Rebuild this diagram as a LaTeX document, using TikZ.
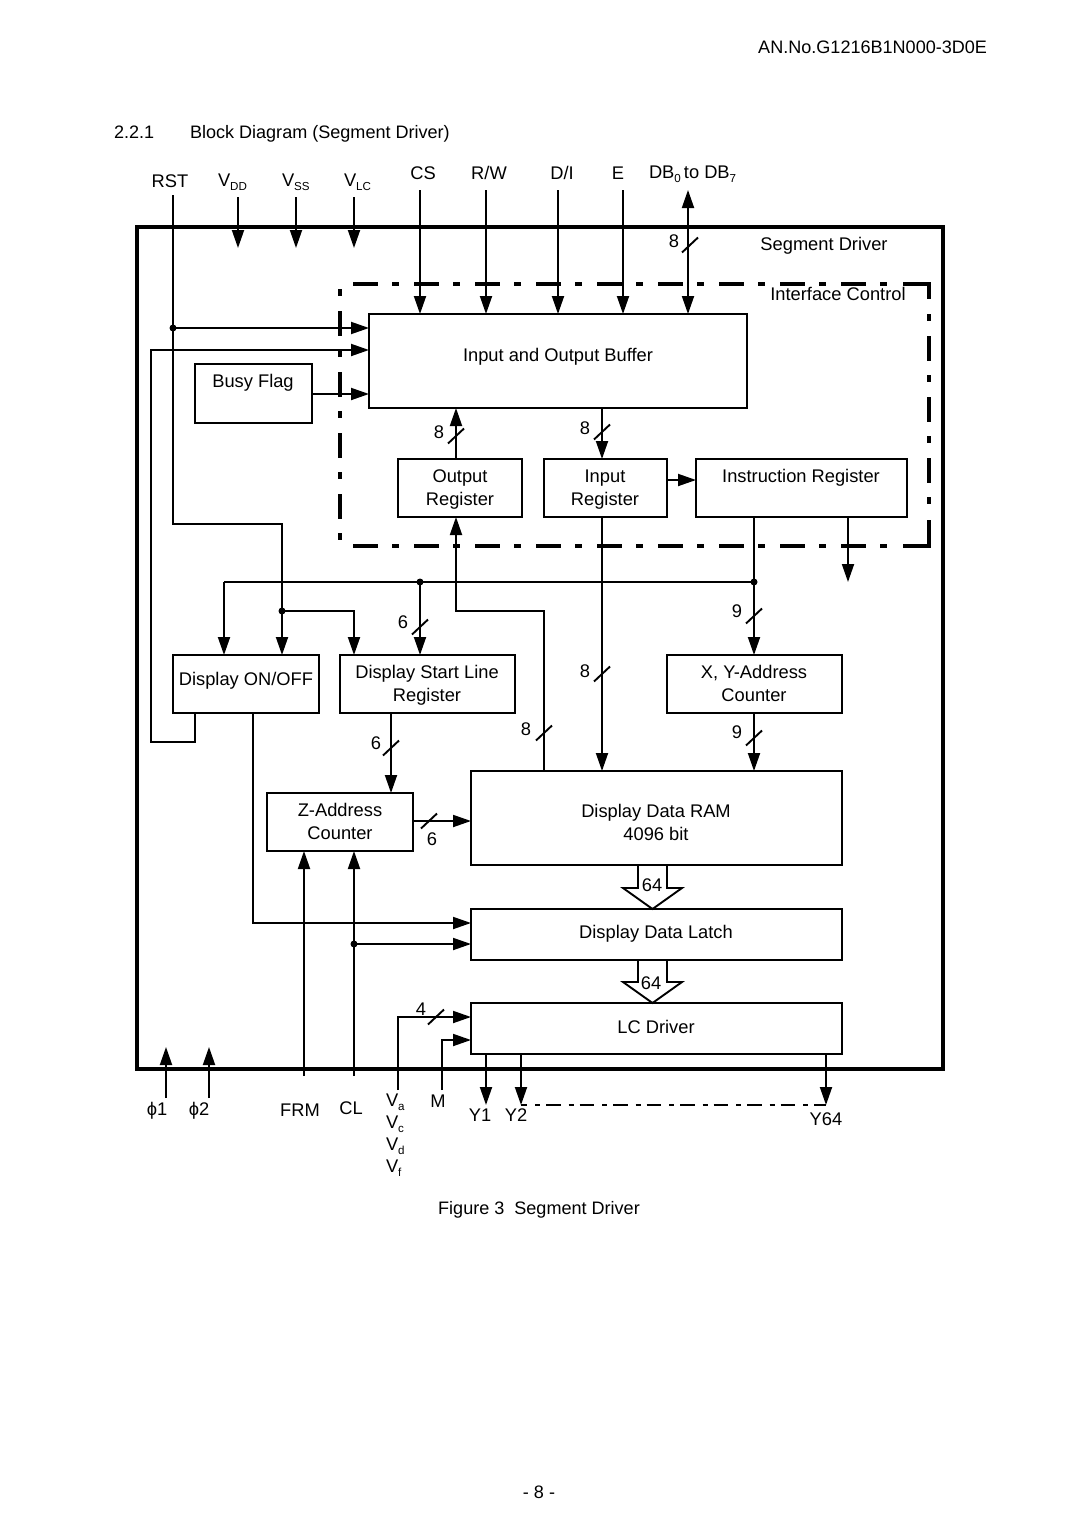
\documentclass[tikz,border=0pt]{standalone}
\usepackage{fontspec}
\setmainfont{Liberation Sans}
\usetikzlibrary{arrows.meta,calc}
\newcommand{\lowsub}[1]{{\fontsize{11.6}{12}\selectfont\raisebox{-3.5pt}{#1}}}
\newcommand{\busslash}[3]{\coordinate (#1) at #2; \draw[wire] ([shift={(-8,7.5)}]#1) -- ([shift={(8,-7.5)}]#1); }
\tikzset{
  x=1pt,y=-1pt,
  wire/.style={line width=1.9pt,draw=black},
  arr/.style={wire,-{Triangle[length=18pt,width=12pt]}},
  darr/.style={wire,{Triangle[length=18pt,width=12pt]}-{Triangle[length=18pt,width=12pt]}},
  box/.style={draw=black,line width=1.9pt,anchor=north west,inner sep=0,outer sep=0},
  txt/.style={inner sep=0,outer sep=0,text height=13pt,text depth=0pt,font=\fontsize{18.3}{20}\selectfont},
  hdr/.style={txt,font=\fontsize{18.05}{20}\selectfont},
  dot/.style={circle,fill=black,inner sep=0,minimum size=7pt},
  frame/.style={line width=4pt,draw=black},
  ifcbase/.style={line width=4pt,draw=black},
  ifclong/.style={ifcbase,dash pattern=on 25pt off 14pt on 7pt off 15pt},
  ifcshort/.style={ifcbase,dash pattern=on 7pt off 15pt on 25pt off 14pt},
  dd/.style={line width=2.2pt,draw=black,dash pattern=on 14.5pt off 8pt on 5pt off 6pt,dash phase=8.5pt},
}
\begin{document}
\begin{tikzpicture}
\useasboundingbox (0,0) rectangle (1080,1528);
\fill[white] (0,0) rectangle (1080,1528);

% frames
\node[box,frame,minimum width=806pt,minimum height=842pt] (chip) at (137,227) {};
% interface control frame: four dash-dot sides, solid right corners
\coordinate (ta) at (353,284); \coordinate (tb) at (895,284);
\coordinate (ba) at (353,546); \coordinate (bb) at (895,546);
\coordinate (la) at (340,289); \coordinate (lb) at (340,545);
\coordinate (ra) at (929,314); \coordinate (rb) at (929,510);
\coordinate (ca) at (903,284); \coordinate (cb) at (929,284); \coordinate (cc) at (929,299);
\coordinate (da) at (903,546); \coordinate (db) at (929,546); \coordinate (dc) at (929,520);
\draw[ifclong] (ta) -- (tb);
\draw[ifclong] (ba) -- (bb);
\draw[ifcshort] (la) -- (lb);
\draw[ifcshort] (ra) -- (rb);
\draw[ifcbase] (ca) -- (cb) -- (cc);
\draw[ifcbase] (da) -- (db) -- (dc);

% boxes
\node[box,minimum width=378pt,minimum height=94pt] (buf) at (369,314) {};
\node[box,minimum width=117pt,minimum height=59pt] (busy) at (195,364) {};
\node[box,minimum width=124pt,minimum height=58pt] (outreg) at (398,459) {};
\node[box,minimum width=123pt,minimum height=58pt] (inreg) at (544,459) {};
\node[box,minimum width=211pt,minimum height=58pt] (instr) at (696,459) {};
\node[box,minimum width=146pt,minimum height=58pt] (onoff) at (173,655) {};
\node[box,minimum width=175pt,minimum height=58pt] (start) at (340,655) {};
\node[box,minimum width=175pt,minimum height=58pt] (xy) at (667,655) {};
\node[box,minimum width=146pt,minimum height=58pt] (z) at (267,793) {};
\node[box,minimum width=371pt,minimum height=94pt] (ram) at (471,771) {};
\node[box,minimum width=371pt,minimum height=51pt] (latch) at (471,909) {};
\node[box,minimum width=371pt,minimum height=51pt] (lc) at (471,1003) {};

% free ends and junctions
\coordinate (rstp) at (173,195);
\node[dot] (jrst) at (173,328) {};
\coordinate (rsta) at (173,524);
\coordinate (rstb) at (282,524);
\node[dot] (jon) at (282,611) {};
\node[dot] (jbus) at (420,582) {};
\node[dot] (jir) at (754,582) {};
\node[dot] (jcl) at (354,944) {};
\coordinate (vddp) at (238,197); \coordinate (vssp) at (296,197); \coordinate (vlcp) at (354,197);
\coordinate (vdde) at (238,248); \coordinate (vsse) at (296,248); \coordinate (vlce) at (354,248);
\coordinate (csp) at (420,190); \coordinate (rwp) at (486,190); \coordinate (dip) at (558,190); \coordinate (ep) at (623,190); \coordinate (dbp) at (688,190);
\coordinate (bfa) at (195,742); \coordinate (bfb) at (151,742); \coordinate (bfc) at (151,350);
\coordinate (phia) at (166,1098); \coordinate (phib) at (209,1098);
\coordinate (phiae) at (166,1047); \coordinate (phibe) at (209,1047);
\coordinate (frmp) at (304,1076); \coordinate (clp) at (354,1076);
\coordinate (vap) at (398,1090); \coordinate (mp) at (442,1090);
\coordinate (y1e) at (486,1105); \coordinate (y2e) at (521,1105); \coordinate (y64e) at (826,1105);
\coordinate (ira) at (848,582);
\coordinate (ora) at (456,611); \coordinate (orb) at (544,611);
\coordinate (bl) at (224,582);

% top pins
\draw[arr] (vddp) -- (vdde);
\draw[arr] (vssp) -- (vsse);
\draw[arr] (vlcp) -- (vlce);
\draw[arr] (csp) -- (csp |- buf.north);
\draw[arr] (rwp) -- (rwp |- buf.north);
\draw[arr] (dip) -- (dip |- buf.north);
\draw[arr] (ep) -- (ep |- buf.north);
\draw[darr] (dbp) -- (dbp |- buf.north);
\busslash{sdb}{(690,245)}{}

% RST
\draw[wire] (rstp) -- (rsta) -- (rstb) -- (jon.center);
\draw[arr] (jon.center) -- (jon |- onoff.north);
\draw[arr] (jrst.center) -- (jrst -| buf.west);
\draw[arr] (jon.center) -| (354,655 |- start.north);

% busy feedback
\draw[arr] (bfa |- onoff.south) -- (bfa) -- (bfb) -- (bfc) -- (bfc -| buf.west);
\draw[arr] (busy.east |- 0,394) -- (buf.west |- 0,394);

% registers
\draw[arr] (456,459 |- outreg.north) -- (456,408 |- buf.south);
\busslash{sout}{(456,436)}{}
\draw[arr] (602,408 |- buf.south) -- (602,459 |- inreg.north);
\busslash{sin}{(602,432)}{}
\draw[arr] (inreg.east |- 0,480) -- (instr.west |- 0,480);

% internal bus
\draw[arr] (jir |- instr.south) -- (jir |- xy.north);
\busslash{sxy}{(754,616)}{}
\draw[wire] (jir.center) -- (bl);
\draw[arr] (bl) -- (bl |- onoff.north);
\draw[arr] (jbus.center) -- (jbus |- start.north);
\busslash{sst}{(420,627)}{}
\draw[arr] (ira |- instr.south) -- (ira);
\draw[arr] (orb |- ram.north) -- (orb) -- (ora) -- (ora |- outreg.south);
\busslash{sor}{(544,733)}{}
\draw[arr] (602,517 |- inreg.south) -- (602,771 |- ram.north);
\busslash{sir}{(602,674)}{}
\draw[arr] (jir |- xy.south) -- (jir |- ram.north);
\busslash{sxr}{(754,738)}{}
\draw[arr] (391,713 |- start.south) -- (391,793 |- z.north);
\busslash{ssz}{(391,748)}{}
\draw[arr] (z.east |- 0,821) -- (ram.west |- 0,821);
\busslash{szr}{(429,821)}{}

% bottom
\draw[arr] (frmp) -- (frmp |- z.south);
\draw[arr] (clp) -- (clp |- z.south);
\draw[arr] (jcl.center) -- (jcl -| latch.west);
\draw[arr] (253,713 |- onoff.south) |- (latch.west |- 0,923);
\draw[arr] (phia) -- (phiae);
\draw[arr] (phib) -- (phibe);
\draw[arr] (vap) |- (lc.west |- 0,1017);
\busslash{slc}{(436,1017)}{}
\draw[arr] (mp) |- (lc.west |- 0,1040);
\draw[arr] (y1e |- lc.south) -- (y1e);
\draw[arr] (y2e |- lc.south) -- (y2e);
\draw[arr] (y64e |- lc.south) -- (y64e);
\draw[dd] (y2e) -- (y64e);

% fat arrows
\draw[wire,line join=miter] (638,865 |- ram.south) -- (638,888) -- (623,888) -- (652.5,909 |- latch.north) -- (682,888) -- (667,888) -- (667,865 |- ram.south);
\draw[wire,line join=miter] (638,960 |- latch.south) -- (638,982) -- (623,982) -- (652.5,1003 |- lc.north) -- (682,982) -- (667,982) -- (667,960 |- latch.south);

% texts
\node[hdr,anchor=east] (docno) at (987,47) {AN.No.G1216B1N000-3D0E};
\node[hdr,anchor=west] (secno) at (114,132) {2.2.1};
\node[hdr,anchor=west] (sectitle) at (190,132) {Block Diagram (Segment Driver)};
\node[txt] (trst) at (170,181) {RST};
\node[txt,anchor=west] (tvdd) at (218,180) {V\lowsub{DD}};
\node[txt,anchor=west] (tvss) at (282,180) {V\lowsub{SS}};
\node[txt,anchor=west] (tvlc) at (344,180) {V\lowsub{LC}};
\node[txt] (tcs) at (423,173) {CS};
\node[txt] (trw) at (489,173) {R/W};
\node[txt] (tdi) at (562,173) {D/I};
\node[txt] (te) at (618,173) {E};
\node[txt,anchor=west] (tdb) at (649,172) {DB\lowsub{0}\,to DB\lowsub{7}};
\node[txt] (l8a) at (674,241) {8};
\node[txt] (tseg) at (824,244) {Segment Driver};
\node[txt] (tifc) at (838,294) {Interface Control};
\node[txt] (tbuf) at (558,355) {Input and Output Buffer};
\node[txt] (tbusy) at (253,381) {Busy Flag};
\node[txt] (l8b) at (439,432) {8};
\node[txt] (l8c) at (585,428) {8};
\node[txt] (tor1) at (460,476) {Output};
\node[txt] (tor2) at (460,499) {Register};
\node[txt] (tir1) at (605,476) {Input};
\node[txt] (tir2) at (605,499) {Register};
\node[txt] (tinstr) at (801,476) {Instruction Register};
\node[txt] (l9a) at (737,611) {9};
\node[txt] (l6a) at (403,622) {6};
\node[txt] (tonoff) at (246,679) {Display ON/OFF};
\node[txt] (tst1) at (427,672) {Display Start Line};
\node[txt] (tst2) at (427,695) {Register};
\node[txt] (l8d) at (585,671) {8};
\node[txt] (txy1) at (754,672) {X, Y-Address};
\node[txt] (txy2) at (754,695) {Counter};
\node[txt] (l8e) at (526,729) {8};
\node[txt] (l9b) at (737,732) {9};
\node[txt] (l6b) at (376,743) {6};
\node[txt] (tz1) at (340,810) {Z-Address};
\node[txt] (tz2) at (340,833) {Counter};
\node[txt] (l6c) at (432,839) {6};
\node[txt] (tram1) at (656,811) {Display Data RAM};
\node[txt] (tram2) at (656,834) {4096 bit};
\node[txt] (l64a) at (652,885) {64};
\node[txt] (tlatch) at (656,932) {Display Data Latch};
\node[txt] (l64b) at (651,983) {64};
\node[txt] (l4) at (421,1009) {4};
\node[txt] (tlc) at (656,1027) {LC Driver};
\node[txt] (tp1) at (157,1109) {ϕ1};
\node[txt] (tp2) at (199,1109) {ϕ2};
\node[txt] (tfrm) at (300,1110) {FRM};
\node[txt] (tcl) at (351,1108) {CL};
\node[txt,anchor=west] (tva) at (386,1100) {V\lowsub{a}};
\node[txt,anchor=west] (tvc) at (386,1122) {V\lowsub{c}};
\node[txt,anchor=west] (tvd) at (386,1144) {V\lowsub{d}};
\node[txt,anchor=west] (tvf) at (386,1166) {V\lowsub{f}};
\node[txt] (tm) at (438,1101) {M};
\node[txt] (ty1) at (480,1115) {Y1};
\node[txt] (ty2) at (516,1115) {Y2};
\node[txt] (ty64) at (826,1119) {Y64};
\node[hdr] (tcap) at (539,1208) {Figure 3\ \ Segment Driver};
\node[hdr] (tpg) at (539,1492) {- 8 -};
\end{tikzpicture}
\end{document}
